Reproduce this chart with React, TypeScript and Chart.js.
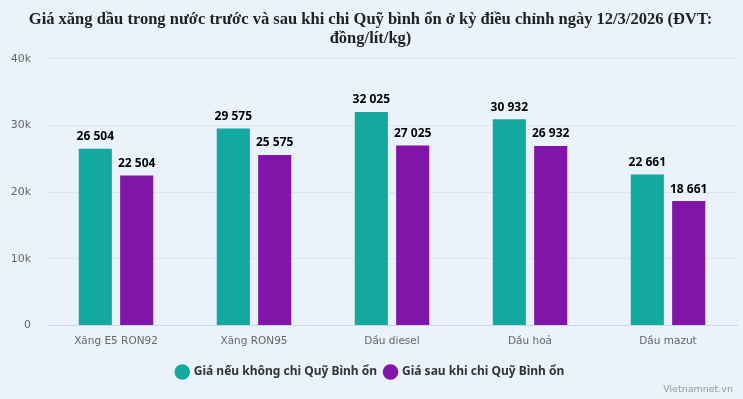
import React, { useEffect, useRef } from "react";
import { Chart, registerables } from "chart.js";

Chart.register(...registerables);

const categories = ["Xăng E5 RON92", "Xăng RON95", "Dầu diesel", "Dầu hoả", "Dầu mazut"];
const seriesNames = ["Giá nếu không chi Quỹ Bình ổn", "Giá sau khi chi Quỹ Bình ổn"];
const beforeFund = [26504, 29575, 32025, 30932, 22661];
const afterFund = [22504, 25575, 27025, 26932, 18661];
const yTicks = [0, 10000, 20000, 30000, 40000];
const titleLines = [
  "Giá xăng dầu trong nước trước và sau khi chi Quỹ bình ổn ở kỳ điều chỉnh ngày 12/3/2026 (ĐVT:",
  "đồng/lít/kg)",
];
const creditText = "Vietnamnet.vn";

const BG = "#eaf3fc";
const TEAL = "#13a8a0";
const PURPLE = "#8115a9";
const SANS = "'DejaVu Sans', Verdana, sans-serif";
const BOLD_SANS = "'Noto Sans', 'DejaVu Sans', sans-serif";

const fmt = (v: number) => String(v).replace(/\B(?=(\d{3})+(?!\d))/g, " ");

const bgPlugin = {
  id: "bg",
  beforeDraw(chart: any) {
    const ctx = chart.ctx;
    ctx.save();
    ctx.fillStyle = BG;
    ctx.fillRect(0, 0, chart.width, chart.height);
    ctx.restore();
  },
};

const labelPlugin = {
  id: "valueLabels",
  afterDatasetsDraw(chart: any) {
    const ctx = chart.ctx;
    ctx.save();
    ctx.font = `bold 12px ${BOLD_SANS}`;
    ctx.fillStyle = "#000";
    ctx.textAlign = "center";
    ctx.textBaseline = "middle";
    chart.data.datasets.forEach((ds: any, i: number) => {
      const meta = chart.getDatasetMeta(i);
      meta.data.forEach((el: any, j: number) => {
        ctx.fillText(fmt(ds.data[j]), el.x, el.y - 12);
      });
    });
    ctx.restore();
  },
};

const creditPlugin = {
  id: "credit",
  afterDraw(chart: any) {
    const ctx = chart.ctx;
    ctx.save();
    ctx.font = `9.5px ${SANS}`;
    ctx.fillStyle = "#999";
    ctx.textAlign = "right";
    ctx.textBaseline = "middle";
    ctx.fillText(creditText, chart.width - 10, 390);
    ctx.restore();
  },
};

export default function App() {
  const ref = useRef<HTMLCanvasElement | null>(null);
  useEffect(() => {
    document.body.style.margin = "0";
    if (!ref.current) return;
    const chart = new Chart(ref.current, {
      type: "bar",
      data: {
        labels: categories,
        datasets: [
          { label: seriesNames[0], data: beforeFund, backgroundColor: TEAL },
          { label: seriesNames[1], data: afterFund, backgroundColor: PURPLE },
        ],
      },
      options: {
        animation: false,
        responsive: false,
        maintainAspectRatio: false,
        layout: { padding: { left: 4, right: 6, top: 1, bottom: 11 } },
        datasets: { bar: { categoryPercentage: 0.6, barPercentage: 0.8 } },
        plugins: {
          tooltip: { enabled: false },
          title: {
            display: true,
            text: titleLines,
            color: "#222",
            font: { family: "'Liberation Serif', 'Times New Roman', serif", size: 16.5, weight: "bold", lineHeight: 1.15 },
            padding: { top: 9, bottom: 11 },
          },
          legend: {
            position: "bottom",
            labels: {
              usePointStyle: true,
              pointStyle: "circle",
              boxWidth: 11,
              boxHeight: 11,
              padding: 8,
              color: "#333",
              font: { family: BOLD_SANS, size: 12, weight: "bold" },
            },
          },
        },
        scales: {
          x: {
            grid: { display: false, drawTicks: false },
            border: { display: true, color: "#ccd6eb" },
            ticks: { color: "#666", font: { family: SANS, size: 10.5 }, padding: 10 },
          },
          y: {
            min: 0,
            max: 40000,
            afterBuildTicks(axis: any) {
              axis.ticks = yTicks.map((v) => ({ value: v }));
            },
            afterFit(axis: any) {
              axis.width = 43;
            },
            grid: { color: "#dde6ee", drawTicks: false },
            border: { display: false },
            ticks: {
              color: "#666",
              font: { family: SANS, size: 11 },
              padding: 16,
              callback: (v: any) => (Number(v) === 0 ? "0" : Number(v) / 1000 + "k"),
            },
          },
        },
      },
      plugins: [bgPlugin, labelPlugin, creditPlugin],
    });
    return () => chart.destroy();
  }, []);
  return (
    <div style={{ width: 743, height: 399 }}>
      <canvas ref={ref} width={743} height={399} style={{ display: "block" }} />
    </div>
  );
}
